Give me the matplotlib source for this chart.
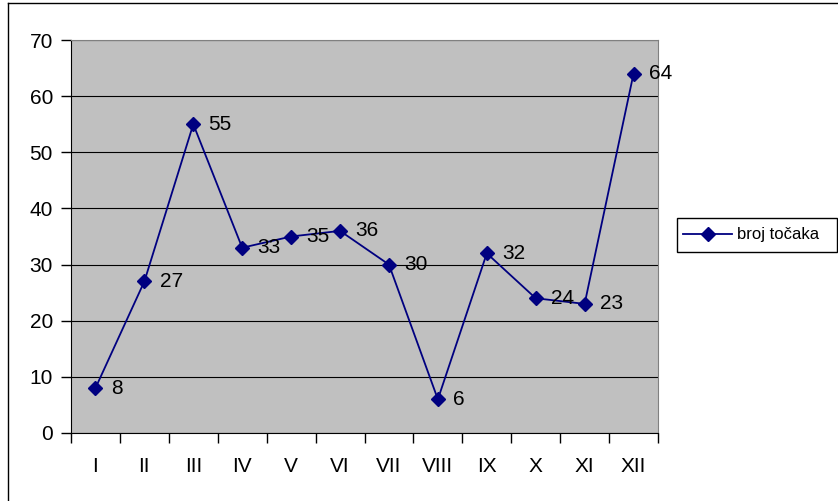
import matplotlib.pyplot as plt
from matplotlib.lines import Line2D
from matplotlib.patches import Rectangle

months = ['I', 'II', 'III', 'IV', 'V', 'VI', 'VII', 'VIII', 'IX', 'X', 'XI', 'XII']
values = [8, 27, 55, 33, 35, 36, 30, 6, 32, 24, 23, 64]
series_name = 'broj točaka'

plt.rcParams['font.family'] = ['Liberation Sans', 'DejaVu Sans']

fig = plt.figure(figsize=(8.38, 5.01), dpi=100)
W, H = 838, 501
ax = fig.add_axes([71 / W, 1 - 433 / H, (658 - 71) / W, (433 - 40) / H])
ax.set_facecolor('#C0C0C0')

x = list(range(len(months)))
line, = ax.plot(x, values, color='#000080', lw=1.3, marker='D', ms=7.5,
                markerfacecolor='#000080', markeredgecolor='#000080', zorder=3,
                label=series_name)
for xi, v in zip(x, values):
    ax.annotate(str(v), (xi, v), xytext=(11, 0), textcoords='offset points',
                va='center', ha='left', fontsize=15)

ax.set_xlim(-0.5, len(months) - 0.5)
ax.set_ylim(0, 70)
ax.set_yticks(range(0, 71, 10))
ax.yaxis.grid(True, color='black', lw=0.8)
ax.set_axisbelow(True)

# ticks on category boundaries, labels centred between them
ax.set_xticks([i - 0.5 for i in range(len(months) + 1)])
ax.set_xticklabels([])
ax.set_xticks(x, minor=True)
ax.set_xticklabels(months, minor=True, fontsize=15)
ax.tick_params(axis='x', which='major', direction='out', length=7, width=1)
ax.tick_params(axis='x', which='minor', length=0, pad=17)
ax.tick_params(axis='y', direction='out', length=7, width=1, labelsize=15, pad=6)

ax.spines['top'].set_color('#808080')
ax.spines['right'].set_color('#808080')
ax.spines['left'].set_color('black')
ax.spines['bottom'].set_color('black')

# legend, frame drawn by hand to sit right at the image edge
leg = fig.legend(handles=[line], loc='center left', bbox_to_anchor=(683 / W, 1 - 235 / H),
                 frameon=False, fontsize=12, handlelength=2.95, handletextpad=0.3,
                 borderpad=0, borderaxespad=0)
fig.patches.append(Rectangle((677 / W, 1 - 252 / H), (837 - 677) / W, 34 / H,
                             transform=fig.transFigure, fill=False,
                             edgecolor='black', lw=1))

# outer chart border (only top and left visible)
fig.add_artist(Line2D([8 / W, 1], [1 - 3 / H, 1 - 3 / H], transform=fig.transFigure,
                      color='black', lw=1))
fig.add_artist(Line2D([8 / W, 8 / W], [0, 1 - 3 / H], transform=fig.transFigure,
                      color='black', lw=1))

fig.savefig('out.png', dpi=100)
